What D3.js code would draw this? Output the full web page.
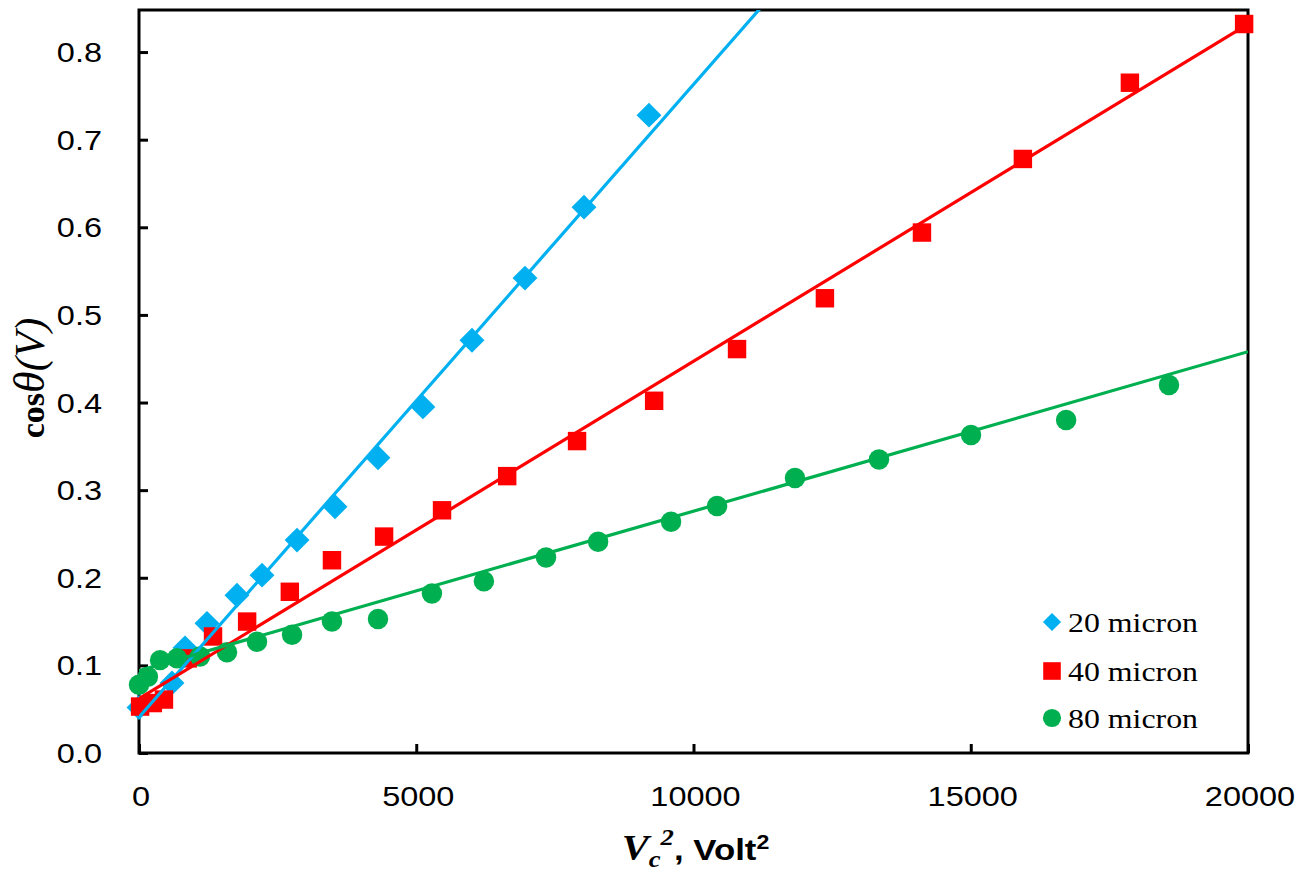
<!DOCTYPE html>
<html>
<head>
<meta charset="utf-8">
<script src="https://cdn.jsdelivr.net/npm/d3@7"></script>
<style>
  html, body { margin: 0; padding: 0; background: #fff; }
  svg { display: block; }
</style>
</head>
<body>
<svg id="chart" width="1305" height="874"></svg>
<script>
// Contact angle response: cos(theta) versus squared voltage for three gap sizes
const seriesNames = ["20 micron", "40 micron", "80 micron"];
const seriesColors = ["#00B0F0", "#FF0000", "#00B050"];
const seriesSymbols = ["diamond", "square", "circle"];

const x20 = [0, 595, 830, 1226, 1767, 2218, 2850, 3535, 4310, 5120, 6005, 6961, 8025, 9197];
const y20 = [0.052, 0.080, 0.120, 0.148, 0.180, 0.203, 0.243, 0.281, 0.337, 0.395, 0.471, 0.542, 0.623, 0.728];

const x40 = [20, 250, 450, 880, 1335, 1950, 2720, 3480, 4420, 5465, 6640, 7900, 9290, 10785, 12370, 14120, 15940, 17870, 19930];
const y40 = [0.053, 0.057, 0.061, 0.108, 0.133, 0.150, 0.184, 0.220, 0.247, 0.277, 0.316, 0.356, 0.402, 0.461, 0.519, 0.594, 0.678, 0.765, 0.832];

const x80 = [0, 160, 380, 685, 1100, 1587, 2128, 2760, 3480, 4310, 5283, 6220, 7340, 8280, 9595, 10425, 11830, 13345, 15005, 16720, 18575];
const y80 = [0.078, 0.087, 0.106, 0.108, 0.110, 0.115, 0.127, 0.135, 0.150, 0.153, 0.182, 0.196, 0.223, 0.241, 0.264, 0.282, 0.314, 0.335, 0.363, 0.380, 0.420];

// Linear trendlines: cos(theta) = intercept + slope * Vc^2
const fitSlopes = [7.22e-5, 3.85e-5, 1.82e-5];
const fitIntercepts = [0.041, 0.062, 0.094];

const xTicks = [0, 5000, 10000, 15000, 20000];
const yTicks = [0, 0.1, 0.2, 0.3, 0.4, 0.5, 0.6, 0.7, 0.8];

const xsAll = [x20, x40, x80];
const ysAll = [y20, y40, y80];

const svg = d3.select("#chart");
const plot = { left: 139, right: 1248, top: 10, bottom: 753 };

const x = d3.scaleLinear().domain([0, 20000]).range([plot.left, plot.right]);
const y = d3.scaleLinear().domain([0, 0.848]).range([plot.bottom, plot.top]);

const textStretch = 1.16;

svg.append("defs").append("clipPath").attr("id", "plotClip")
  .append("rect")
  .attr("x", plot.left).attr("y", plot.top)
  .attr("width", plot.right - plot.left).attr("height", plot.bottom - plot.top);

// Axes with inward ticks
const yAxis = d3.axisLeft(y).tickValues(yTicks).tickSize(-9).tickFormat(d3.format(".1f"));
const gy = svg.append("g").attr("transform", `translate(${plot.left},0)`).call(yAxis);
gy.select(".domain").remove();
gy.selectAll(".tick line").attr("stroke", "#000").attr("stroke-width", 3);
gy.selectAll(".tick text").remove();
yTicks.forEach(v => {
  svg.append("text")
    .attr("transform", `translate(102,${y(v) + 10}) scale(${textStretch},1)`)
    .attr("text-anchor", "end")
    .style("font-family", "'Liberation Sans', Arial, sans-serif")
    .style("font-size", "28px")
    .attr("fill", "#000")
    .text(d3.format(".1f")(v));
});

const xAxis = d3.axisBottom(x).tickValues(xTicks).tickSize(-9);
const gx = svg.append("g").attr("transform", `translate(0,${plot.bottom})`).call(xAxis);
gx.select(".domain").remove();
gx.selectAll(".tick line").attr("stroke", "#000").attr("stroke-width", 3);
gx.selectAll(".tick text").remove();
xTicks.forEach(v => {
  svg.append("text")
    .attr("transform", `translate(${x(v) + 2},806) scale(${textStretch},1)`)
    .attr("text-anchor", "middle")
    .style("font-family", "'Liberation Sans', Arial, sans-serif")
    .style("font-size", "28px")
    .attr("fill", "#000")
    .text(String(v));
});

// Plot frame
svg.append("rect")
  .attr("x", plot.left).attr("y", plot.top)
  .attr("width", plot.right - plot.left).attr("height", plot.bottom - plot.top)
  .attr("fill", "none").attr("stroke", "#000").attr("stroke-width", 3);

// Markers (diamond = square turned 45 degrees)
const symbolTypes = { diamond: d3.symbolSquare, square: d3.symbolSquare, circle: d3.symbolCircle };
const symbolSizes = { diamond: 310, square: 340, circle: 330 };

seriesNames.forEach((name, i) => {
  const pts = xsAll[i].map((xv, j) => [xv, ysAll[i][j]]);
  const shape = seriesSymbols[i];
  const sym = d3.symbol().type(symbolTypes[shape]).size(symbolSizes[shape]);
  svg.append("g").selectAll("path").data(pts).enter().append("path")
    .attr("d", sym)
    .attr("transform", d => `translate(${x(d[0])},${y(d[1])})` + (shape === "diamond" ? " rotate(45)" : ""))
    .attr("fill", seriesColors[i]);
});

// Trendlines
const lineGen = d3.line().x(d => x(d[0])).y(d => y(d[1]));
seriesNames.forEach((name, i) => {
  const ends = [0, 20000].map(v => [v, fitIntercepts[i] + fitSlopes[i] * v]);
  svg.append("path")
    .datum(ends)
    .attr("d", lineGen)
    .attr("clip-path", "url(#plotClip)")
    .attr("fill", "none")
    .attr("stroke", seriesColors[i])
    .attr("stroke-width", 3.2);
});

// Legend
const legendY = [622, 671, 718];
const legendSizes = { diamond: 165, square: 310, circle: 260 };
seriesNames.forEach((name, i) => {
  const shape = seriesSymbols[i];
  svg.append("path")
    .attr("d", d3.symbol().type(symbolTypes[shape]).size(legendSizes[shape]))
    .attr("transform", `translate(1052,${legendY[i]})` + (shape === "diamond" ? " rotate(45)" : ""))
    .attr("fill", seriesColors[i]);
  svg.append("text")
    .attr("transform", `translate(1068,${legendY[i] + 10}) scale(1.18,1)`)
    .style("font-family", "'Liberation Serif', 'Times New Roman', serif")
    .style("font-size", "27px")
    .attr("fill", "#000")
    .text(name);
});

// Y axis title: cos θ(V)
const yTitle = svg.append("text")
  .attr("transform", "translate(44,378) rotate(-90)")
  .attr("text-anchor", "middle")
  .style("font-family", "'Liberation Serif', 'Times New Roman', serif")
  .attr("fill", "#000");
yTitle.append("tspan").style("font-weight", "bold").style("font-size", "34px").text("cos");
yTitle.append("tspan").style("font-style", "italic").style("font-size", "44px").text("\u03B8");
yTitle.append("tspan").style("font-style", "italic").style("font-size", "42px").text("(V)");

// X axis title: Vc², Volt²
const xTitle = svg.append("text")
  .attr("transform", `translate(${x(10000) + 2},860) scale(1.16,1)`)
  .attr("text-anchor", "middle")
  .attr("fill", "#000");
xTitle.append("tspan")
  .style("font-family", "'Liberation Serif', 'Times New Roman', serif")
  .style("font-style", "italic").style("font-weight", "bold").style("font-size", "35px").text("V");
xTitle.append("tspan").attr("dy", 7)
  .style("font-family", "'Liberation Serif', 'Times New Roman', serif")
  .style("font-style", "italic").style("font-weight", "bold").style("font-size", "23px").text("c");
xTitle.append("tspan").attr("dy", -22)
  .style("font-family", "'Liberation Serif', 'Times New Roman', serif")
  .style("font-style", "italic").style("font-weight", "bold").style("font-size", "23px").text("2");
xTitle.append("tspan").attr("dy", 15)
  .style("font-family", "'Liberation Sans', Arial, sans-serif")
  .style("font-weight", "bold").style("font-size", "30px").text(", Volt");
xTitle.append("tspan").attr("dy", -11)
  .style("font-family", "'Liberation Sans', Arial, sans-serif")
  .style("font-weight", "bold").style("font-size", "20px").text("2");
</script>
</body>
</html>
